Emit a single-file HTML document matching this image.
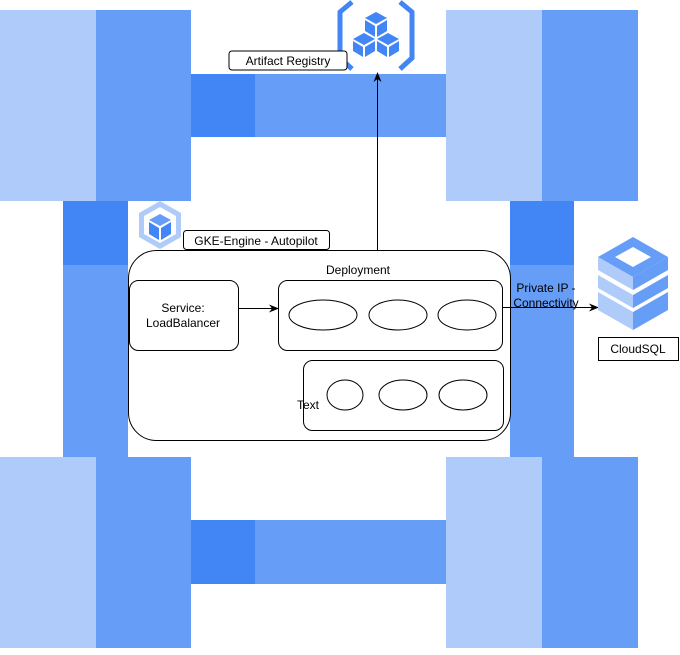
<!DOCTYPE html>
<html><head><style>
body{margin:0;width:680px;height:650px;background:#fff;overflow:hidden;font-family:"Liberation Sans",sans-serif}
</style></head><body>
<svg width="680" height="650" viewBox="0 0 680 650" xmlns="http://www.w3.org/2000/svg" font-family="Liberation Sans, sans-serif" font-size="12">
<defs><marker id="a" markerWidth="10" markerHeight="10" refX="9" refY="5" orient="auto" markerUnits="userSpaceOnUse"><path d="M0,1 L10,5 L0,9 L3,5 z" fill="#000"/></marker></defs>
<g>
<rect x="0" y="10" width="96" height="191" fill="#aecbfa"/><rect x="96" y="10" width="95" height="191" fill="#669df6"/>
<rect x="191" y="74" width="64" height="63" fill="#4285f4"/><rect x="255" y="74" width="191" height="63" fill="#669df6"/>
<rect x="446" y="10" width="96" height="191" fill="#aecbfa"/><rect x="542" y="10" width="96" height="191" fill="#669df6"/>
<rect x="63" y="201" width="65" height="64" fill="#4285f4"/><rect x="63" y="265" width="65" height="192" fill="#669df6"/>
<rect x="510" y="201" width="64" height="64" fill="#4285f4"/><rect x="510" y="265" width="64" height="192" fill="#669df6"/>
<rect x="0" y="457" width="96" height="191" fill="#aecbfa"/><rect x="96" y="457" width="95" height="191" fill="#669df6"/>
<rect x="191" y="520" width="64" height="64" fill="#4285f4"/><rect x="255" y="520" width="191" height="64" fill="#669df6"/>
<rect x="446" y="457" width="96" height="191" fill="#aecbfa"/><rect x="542" y="457" width="96" height="191" fill="#669df6"/>
</g>
<!-- registry icon -->
<path d="M352,2 L340,12 L340,58 L352,69" fill="none" stroke="#4285f4" stroke-width="5"/>
<path d="M400,2 L412,12 L412,58 L400,69" fill="none" stroke="#4285f4" stroke-width="5"/>
<g fill="#4285f4">
<path d="M376,12 L387,18 L376,24 L365,18z"/><path d="M365,20 L375,26 L375,37 L365,31z"/><path d="M387,20 L377,26 L377,37 L387,31z"/>
<path d="M364,33 L375,39 L364,45 L353,39z"/><path d="M353,41 L363,47 L363,57 L353,51z"/><path d="M375,41 L365,47 L365,57 L375,51z"/>
<path d="M388,33 L399,39 L388,45 L377,39z"/><path d="M377,41 L387,47 L387,57 L377,51z"/><path d="M399,41 L389,47 L389,57 L399,51z"/>
</g>
<rect x="229" y="51" width="118" height="19" rx="3" fill="#fff" stroke="#000"/>
<text x="288" y="65" text-anchor="middle">Artifact Registry</text>
<!-- GKE icon -->
<path d="M160,201 L181,213 L181,237 L160,249 L139,237 L139,213z" fill="#aecbfa"/>
<path d="M160,207 L176,216 L176,234 L160,243 L144,234 L144,216z" fill="#fff"/>
<path d="M160,214 L171,220 L160,226 L149,220z" fill="#669df6"/>
<path d="M149,222 L159,228 L159,240 L149,234z" fill="#4285f4"/><path d="M171,222 L161,228 L161,240 L171,234z" fill="#4285f4"/>
<!-- container -->
<rect x="128.5" y="250.5" width="382" height="190" rx="28" fill="#fff" stroke="#000"/>
<rect x="183.5" y="230.5" width="146" height="19" rx="3" fill="#fff" stroke="#000"/>
<text x="256" y="245" text-anchor="middle">GKE-Engine - Autopilot</text>
<text x="358" y="274" text-anchor="middle">Deployment</text>
<rect x="129.5" y="280.5" width="109" height="70" rx="9" fill="#fff" stroke="#000"/>
<text x="183" y="312" text-anchor="middle">Service:</text>
<text x="183" y="327" text-anchor="middle">LoadBalancer</text>
<rect x="278.5" y="280.5" width="224" height="70" rx="9" fill="#fff" stroke="#000"/>
<ellipse cx="323" cy="315" rx="34" ry="15" fill="#fff" stroke="#000"/>
<ellipse cx="398" cy="315" rx="29" ry="15" fill="#fff" stroke="#000"/>
<ellipse cx="467" cy="315" rx="29" ry="15" fill="#fff" stroke="#000"/>
<rect x="303.5" y="360.5" width="200" height="70" rx="9" fill="#fff" stroke="#000"/>
<ellipse cx="345" cy="395" rx="18" ry="15" fill="#fff" stroke="#000"/>
<ellipse cx="403" cy="395" rx="24" ry="15" fill="#fff" stroke="#000"/>
<ellipse cx="463" cy="395" rx="24" ry="15" fill="#fff" stroke="#000"/>
<text x="308" y="409" text-anchor="middle">Text</text>
<!-- arrows -->
<line x1="238" y1="308.5" x2="278" y2="308.5" stroke="#000" marker-end="url(#a)"/>
<line x1="377.5" y1="250" x2="377.5" y2="73" stroke="#000" marker-end="url(#a)"/>
<line x1="502" y1="307.5" x2="598" y2="307.5" stroke="#000" marker-end="url(#a)"/>
<text x="546" y="292" text-anchor="middle">Private IP -</text>
<text x="546" y="307" text-anchor="middle">Connectivity</text>
<!-- CloudSQL icon -->
<path d="M633,237 L668,257 L633,277 L598,257z" fill="#669df6"/>
<path d="M633,247 L651,257 L633,267 L615,257z" fill="#fff"/>
<path d="M598,257 L633,277 L633,290 L598,270z" fill="#aecbfa"/><path d="M668,257 L633,277 L633,290 L668,270z" fill="#669df6"/>
<path d="M598,275 L633,295 L633,308 L598,288z" fill="#aecbfa"/><path d="M668,275 L633,295 L633,308 L668,288z" fill="#669df6"/>
<path d="M598,292 L633,312 L633,330 L598,310z" fill="#aecbfa"/><path d="M668,292 L633,312 L633,330 L668,310z" fill="#669df6"/>
<rect x="598.5" y="337.5" width="80" height="23" fill="#fff" stroke="#000"/>
<text x="638" y="353" text-anchor="middle">CloudSQL</text>
</svg>
</body></html>
